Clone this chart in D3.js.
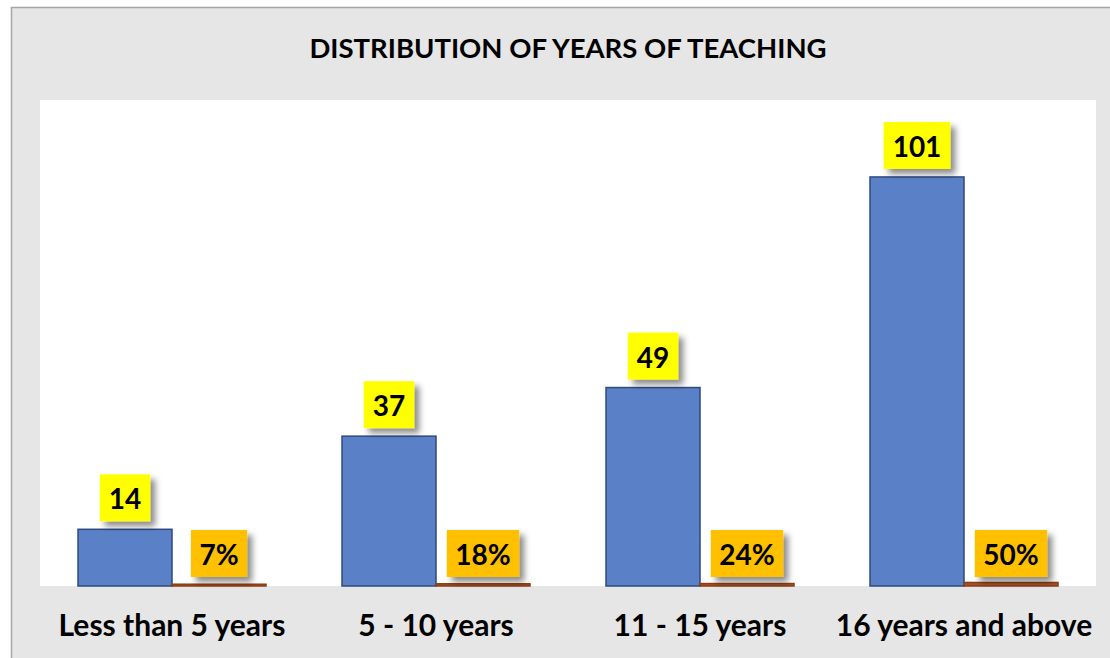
<html>
<head>
<style>
body { margin: 0; background: #fff; }
text { font-family: Lato, "Open Sans", sans-serif; font-weight: bold; }
</style>
</head>
<body>
<script src="https://cdn.jsdelivr.net/npm/d3@7/dist/d3.min.js"></script>
<svg width="1110" height="658" id="chart"></svg>
<script>
var title = "DISTRIBUTION OF YEARS OF TEACHING";
var categories = ["Less than 5 years", "5 - 10 years", "11 - 15 years", "16 years and above"];
var counts = [14, 37, 49, 101];
var percents = [0.07, 0.18, 0.24, 0.50];
var percentLabels = ["7%", "18%", "24%", "50%"];

var svg = d3.select("#chart");

// drop shadow for the label boxes
var defs = svg.append("defs");
var f = defs.append("filter").attr("id", "shadow")
    .attr("x", "-30%").attr("y", "-30%").attr("width", "170%").attr("height", "170%");
f.append("feDropShadow").attr("dx", 5).attr("dy", 5).attr("stdDeviation", 3)
    .attr("flood-color", "#000").attr("flood-opacity", 0.45);

// chart area
svg.append("rect").attr("x", 11.5).attr("y", 7.5).attr("width", 1110).attr("height", 660)
    .style("fill", "#e6e6e6").style("stroke", "#a6a6a6").style("stroke-width", 1.5);

var plot = { left: 40, right: 1096, top: 100, bottom: 586 };
svg.append("rect").attr("x", plot.left).attr("y", plot.top)
    .attr("width", plot.right - plot.left).attr("height", plot.bottom - plot.top)
    .style("fill", "#fff");

svg.append("text").attr("x", 568).attr("y", 58).attr("text-anchor", "middle")
    .style("font-size", "27.5px").style("fill", "#000").text(title);

var x = d3.scaleBand().domain(categories).range([plot.left, plot.right])
    .paddingInner(0.288).paddingOuter(0.144);
var sub = d3.scaleBand().domain(["count", "pct"]).range([0, x.bandwidth()]);
var y = d3.scaleLinear().domain([0, 120]).range([plot.bottom, plot.top]);

// count bars
svg.selectAll(".bar").data(counts).enter().append("rect")
    .attr("class", "bar")
    .attr("x", function(d, i) { return x(categories[i]) + sub("count"); })
    .attr("y", function(d) { return y(d); })
    .attr("width", sub.bandwidth())
    .attr("height", function(d) { return y(0) - y(d); })
    .style("fill", "#5a81c8")
    .style("stroke", "#2f4a7d").style("stroke-width", 1.5);

// percent bars (very small on the same axis)
svg.selectAll(".pbar").data(percents).enter().append("rect")
    .attr("class", "pbar")
    .attr("x", function(d, i) { return x(categories[i]) + sub("pct"); })
    .attr("y", function(d) { return y(d) - 1.5; })
    .attr("width", sub.bandwidth())
    .attr("height", function(d) { return y(0) - y(d) + 1.5; })
    .style("fill", "#a0522d")
    .style("stroke", "#8b3e12").style("stroke-width", 1.5);

function label(g, cx, bottom, txt, color, pad) {
    var t = g.append("text").attr("x", cx).attr("y", bottom - 12)
        .attr("text-anchor", "middle").style("font-size", "28px").style("fill", "#000").text(txt);
    var w = t.node().getComputedTextLength() + pad * 2;
    g.insert("rect", "text").attr("x", cx - w / 2).attr("y", bottom - 47)
        .attr("width", w).attr("height", 47)
        .style("fill", color).style("filter", "url(#shadow)");
}

counts.forEach(function(d, i) {
    var g = svg.append("g");
    label(g, x(categories[i]) + sub("count") + sub.bandwidth() / 2, y(d) - 8, String(d), "#ffff00", 9);
});
percents.forEach(function(d, i) {
    var g = svg.append("g");
    label(g, x(categories[i]) + sub("pct") + sub.bandwidth() / 2, y(0) - 9, percentLabels[i], "#ffc000", 8.5);
});

// category labels
svg.selectAll(".cat").data(categories).enter().append("text")
    .attr("class", "cat")
    .attr("x", function(d) { return x(d) + x.bandwidth() / 2; })
    .attr("y", 636)
    .attr("text-anchor", "middle")
    .style("font-size", "30px").style("fill", "#000")
    .text(function(d) { return d; });
</script>
</body>
</html>
